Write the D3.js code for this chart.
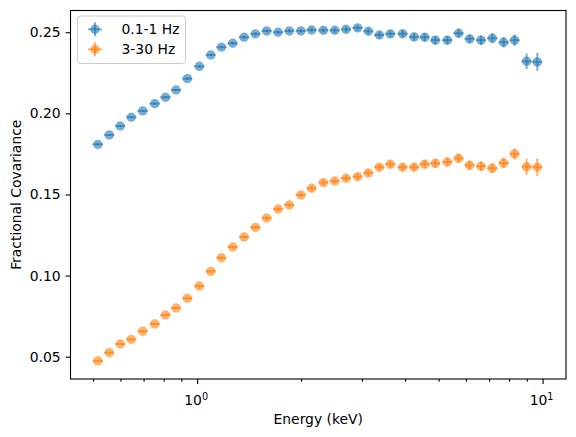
<!DOCTYPE html>
<html>
<head>
<meta charset="utf-8">
<script src="https://cdn.jsdelivr.net/npm/d3@7"></script>
<style>
  body { margin: 0; background: #fff; }
  svg { display: block; font-family: "DejaVu Sans", sans-serif; }
</style>
</head>
<body>
<svg id="chart" width="576" height="437"></svg>
<script>
// Energy bins (keV)
const energy = [0.516, 0.557, 0.599, 0.645, 0.696, 0.754, 0.810, 0.869, 0.937, 1.015,
                1.095, 1.176, 1.268, 1.368, 1.475, 1.590, 1.716, 1.849, 1.997, 2.145,
                2.320, 2.502, 2.698, 2.915, 3.131, 3.370, 3.625, 3.935, 4.246, 4.557,
                4.892, 5.301, 5.714, 6.150, 6.634, 7.154, 7.714, 8.299, 8.991, 9.654];
const energyErr = [0.018, 0.019, 0.020, 0.022, 0.024, 0.026, 0.028, 0.030, 0.032, 0.035,
                   0.037, 0.040, 0.043, 0.047, 0.050, 0.054, 0.058, 0.063, 0.068, 0.073,
                   0.079, 0.085, 0.092, 0.099, 0.106, 0.115, 0.123, 0.134, 0.144, 0.155,
                   0.166, 0.180, 0.194, 0.209, 0.226, 0.243, 0.262, 0.282, 0.306, 0.328];

// 0.1-1 Hz
const lowCov = [0.1809, 0.1867, 0.1922, 0.1976, 0.2015, 0.2060, 0.2099, 0.2144, 0.2214, 0.2290,
                0.2360, 0.2408, 0.2432, 0.2469, 0.2490, 0.2508, 0.2500, 0.2508, 0.2508, 0.2514,
                0.2512, 0.2512, 0.2518, 0.2527, 0.2506, 0.2483, 0.2490, 0.2491, 0.2471, 0.2469,
                0.2451, 0.2451, 0.2494, 0.2459, 0.2451, 0.2463, 0.2438, 0.2451, 0.2321, 0.2317];
const lowErr = [0.0006, 0.0006, 0.0006, 0.0006, 0.0006, 0.0007, 0.0007, 0.0007, 0.0008, 0.0008,
                0.0008, 0.0009, 0.0009, 0.0010, 0.0010, 0.0011, 0.0011, 0.0012, 0.0013, 0.0014,
                0.0015, 0.0016, 0.0017, 0.0018, 0.0019, 0.0020, 0.0021, 0.0022, 0.0023, 0.0024,
                0.0025, 0.0026, 0.0027, 0.0028, 0.0029, 0.0030, 0.0032, 0.0035, 0.0048, 0.0055];

// 3-30 Hz
const highCov = [0.0474, 0.0525, 0.0578, 0.0607, 0.0657, 0.0702, 0.0757, 0.0800, 0.0860, 0.0936,
                 0.1026, 0.1110, 0.1176, 0.1238, 0.1297, 0.1355, 0.1410, 0.1435, 0.1497, 0.1538,
                 0.1573, 0.1583, 0.1600, 0.1610, 0.1632, 0.1668, 0.1686, 0.1668, 0.1668, 0.1686,
                 0.1692, 0.1700, 0.1723, 0.1680, 0.1674, 0.1662, 0.1694, 0.1750, 0.1671, 0.1668];
const highErr = [0.0005, 0.0005, 0.0005, 0.0005, 0.0006, 0.0006, 0.0006, 0.0007, 0.0007, 0.0008,
                 0.0008, 0.0009, 0.0009, 0.0010, 0.0010, 0.0011, 0.0011, 0.0012, 0.0013, 0.0014,
                 0.0015, 0.0016, 0.0017, 0.0018, 0.0019, 0.0020, 0.0021, 0.0022, 0.0023, 0.0024,
                 0.0025, 0.0026, 0.0027, 0.0028, 0.0029, 0.0030, 0.0032, 0.0035, 0.0050, 0.0055];

const seriesNames = ["0.1-1 Hz", "3-30 Hz"];
const seriesColors = ["#1f77b4", "#ff7f0e"];
const yTicks = [0.05, 0.10, 0.15, 0.20, 0.25];
const xMajorTicks = [1, 10];
const xMinorTicks = [0.5, 0.6, 0.7, 0.8, 0.9, 2, 3, 4, 5, 6, 7, 8, 9];

// Layout
const plot = { left: 70.5, right: 566, top: 10.5, bottom: 379 };
const fontSize = 13.9;
const svg = d3.select("#chart");

const x = d3.scaleLog().domain([0.43, 11.69]).range([plot.left, plot.right]);
const y = d3.scaleLinear().domain([0.03625, 0.2634]).range([plot.bottom, plot.top]);

const series = [
  { name: seriesNames[0], color: seriesColors[0], cov: lowCov, err: lowErr },
  { name: seriesNames[1], color: seriesColors[1], cov: highCov, err: highErr }
];

/*
** DATA MARKS
*/
series.forEach(s => {
  let pts = energy.map((e, i) => ({ e: e, xe: energyErr[i], v: s.cov[i], ye: s.err[i] }));
  let g = svg.append("g");

  // horizontal error bars
  g.selectAll(".xerr").data(pts).enter().append("line")
    .attr("x1", d => x(d.e - d.xe)).attr("x2", d => x(d.e + d.xe))
    .attr("y1", d => y(d.v)).attr("y2", d => y(d.v))
    .attr("stroke", s.color).attr("stroke-width", 2).attr("stroke-opacity", 0.6);

  // vertical error bars
  g.selectAll(".yerr").data(pts).enter().append("line")
    .attr("x1", d => x(d.e)).attr("x2", d => x(d.e))
    .attr("y1", d => y(d.v - d.ye)).attr("y2", d => y(d.v + d.ye))
    .attr("stroke", s.color).attr("stroke-width", 2).attr("stroke-opacity", 0.6);

  // markers
  g.selectAll("circle").data(pts).enter().append("circle")
    .attr("cx", d => x(d.e)).attr("cy", d => y(d.v)).attr("r", 4.7)
    .attr("fill", s.color).attr("fill-opacity", 0.6);
});

/*
** AXES
*/
let yAxis = svg.append("g")
  .attr("transform", `translate(${plot.left},0)`)
  .call(d3.axisLeft(y).tickValues(yTicks).tickFormat(d3.format(".2f")).tickSize(4.9).tickPadding(4.9));

let xAxis = svg.append("g")
  .attr("transform", `translate(0,${plot.bottom})`)
  .call(d3.axisBottom(x).tickValues(xMajorTicks).tickFormat(() => "").tickSize(4.9));

svg.append("g")
  .attr("transform", `translate(0,${plot.bottom})`)
  .call(d3.axisBottom(x).tickValues(xMinorTicks).tickFormat(() => "").tickSize(2.8))
  .call(g => g.select(".domain").remove());

[yAxis, xAxis].forEach(a => {
  a.select(".domain").remove();
  a.selectAll("text").attr("font-size", fontSize).attr("fill", "#000").attr("font-family", "DejaVu Sans");
});
svg.selectAll(".tick line").attr("stroke", "#000").attr("stroke-width", 1.1);

// x major labels as 10^n
xMajorTicks.forEach(t => {
  let txt = svg.append("text")
    .attr("x", x(t) - 1).attr("y", plot.bottom + 26)
    .attr("text-anchor", "middle").attr("font-size", fontSize).attr("fill", "#000");
  txt.append("tspan").text("10");
  txt.append("tspan").attr("dy", -5.5).attr("font-size", 9.7).text(String(Math.round(Math.log10(t))));
});

// frame
svg.append("rect")
  .attr("x", plot.left).attr("y", plot.top)
  .attr("width", plot.right - plot.left).attr("height", plot.bottom - plot.top)
  .attr("fill", "none").attr("stroke", "#000").attr("stroke-width", 1.1);

// axis labels
svg.append("text")
  .attr("x", (plot.left + plot.right) / 2).attr("y", 424)
  .attr("text-anchor", "middle").attr("font-size", fontSize).text("Energy (keV)");

svg.append("text")
  .attr("transform", `translate(21,${(plot.top + plot.bottom) / 2}) rotate(-90)`)
  .attr("text-anchor", "middle").attr("font-size", fontSize).text("Fractional Covariance");

/*
** LEGEND
*/
let legend = svg.append("g");
legend.append("rect")
  .attr("x", 77.5).attr("y", 16).attr("width", 108).attr("height", 47.5).attr("rx", 3)
  .attr("fill", "#fff").attr("fill-opacity", 0.8).attr("stroke", "#ccc").attr("stroke-width", 1);

series.forEach((s, i) => {
  let cy = 29.3 + i * 20;
  let cx = 95;
  legend.append("line").attr("x1", cx - 7).attr("x2", cx + 7).attr("y1", cy).attr("y2", cy)
    .attr("stroke", s.color).attr("stroke-width", 2).attr("stroke-opacity", 0.6);
  legend.append("line").attr("x1", cx).attr("x2", cx).attr("y1", cy - 7).attr("y2", cy + 7)
    .attr("stroke", s.color).attr("stroke-width", 2).attr("stroke-opacity", 0.6);
  legend.append("circle").attr("cx", cx).attr("cy", cy).attr("r", 4.7)
    .attr("fill", s.color).attr("fill-opacity", 0.6);
  legend.append("text").attr("x", 121.5).attr("y", cy + 5)
    .attr("font-size", fontSize).text(s.name);
});
</script>
</body>
</html>
